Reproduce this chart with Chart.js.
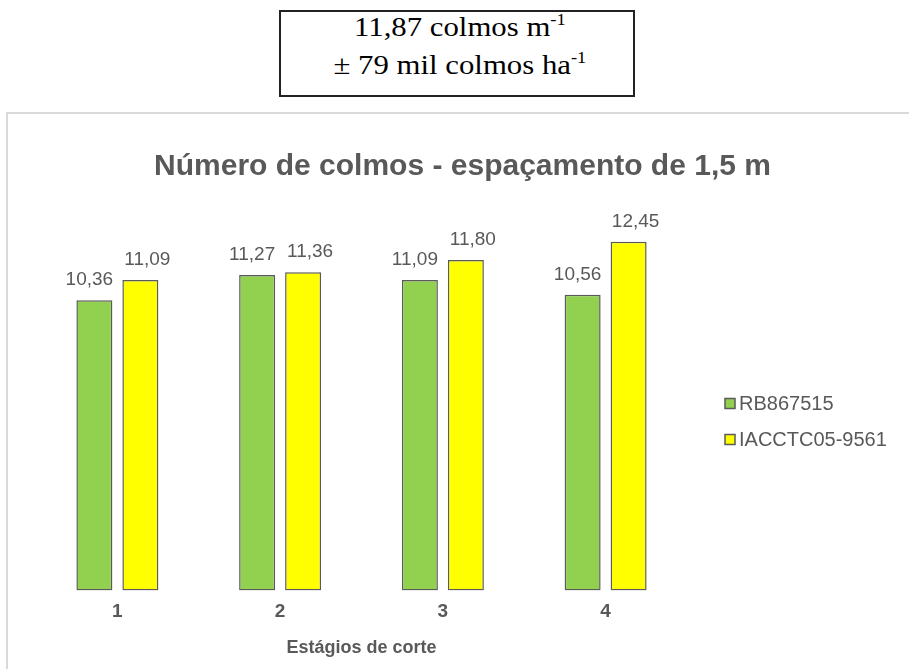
<!DOCTYPE html>
<html lang="pt">
<head>
<meta charset="utf-8">
<title>Número de colmos - espaçamento de 1,5 m</title>
<script src="https://cdn.jsdelivr.net/npm/chart.js@4.4.1/dist/chart.umd.min.js"></script>
<style>
  html, body { margin: 0; padding: 0; background: #ffffff; width: 909px; height: 669px; overflow: hidden; }
  .summary-box { position: absolute; left: 279px; top: 10px; width: 352px; height: 83px; border: 2px solid #222; }
  .summary-line { position: absolute; left: 279px; width: 361px; height: 38px; line-height: 38px; text-align: center;
                  font-family: "Liberation Serif", "Times New Roman", serif; font-size: 27px; color: #000; }
  .summary-line span { display: inline-block; transform: scaleX(1.14); transform-origin: center; white-space: nowrap; }
  .summary-line sup { font-size: 0.6em; vertical-align: 0.7em; line-height: 0; }
  .frame { position: absolute; left: 6px; top: 112px; width: 1000px; height: 700px;
           border-left: 2px solid #d9d9d9; border-top: 2px solid #d9d9d9; }
  #chart { position: absolute; left: 8px; top: 114px; }
</style>
</head>
<body>
<div class="summary-box"></div>
<div class="summary-line" style="top:8px"><span>11,87 colmos m<sup>-1</sup></span></div>
<div class="summary-line" style="top:46px"><span>± 79 mil colmos ha<sup>-1</sup></span></div>
<div class="frame"></div>
<canvas id="chart" width="901" height="555"></canvas>
<script>
// Cutting stages (x categories)
const stages = ['1', '2', '3', '4'];
// Stalks per metre for each variety
const rb867515 = [10.36, 11.27, 11.09, 10.56];
const iacctc059561 = [11.09, 11.36, 11.80, 12.45];
const seriesNames = ['RB867515', 'IACCTC05-9561'];
const seriesColors = ['#92d050', '#ffff00'];
const chartTitle = 'Número de colmos - espaçamento de 1,5 m';
const xAxisTitle = 'Estágios de corte';

const textGray = '#595959';
const barEdge = '#5a5a5a';
const sans = '"Liberation Sans", Arial, sans-serif';

function formatValue(v) {
  return v.toFixed(2).replace('.', ',');
}

// Title centred across the whole chart frame, not just the plot area
const frameTitle = {
  id: 'frameTitle',
  afterDraw(chart) {
    const ctx = chart.ctx;
    ctx.save();
    ctx.font = 'bold 30px ' + sans;
    ctx.fillStyle = textGray;
    ctx.textAlign = 'center';
    ctx.textBaseline = 'middle';
    ctx.fillText(chartTitle, chart.width / 2 + 4, 53);
    ctx.restore();
  }
};

// Value labels above each bar, pushed slightly outward within a group
const valueLabels = {
  id: 'valueLabels',
  afterDatasetsDraw(chart) {
    const ctx = chart.ctx;
    const nudge = [-5, 7];
    ctx.save();
    ctx.font = '19px ' + sans;
    ctx.fillStyle = textGray;
    ctx.textAlign = 'center';
    ctx.textBaseline = 'alphabetic';
    chart.data.datasets.forEach((ds, di) => {
      const meta = chart.getDatasetMeta(di);
      meta.data.forEach((bar, i) => {
        ctx.fillText(formatValue(ds.data[i]), bar.x + nudge[di], bar.y - 15);
      });
    });
    ctx.restore();
  }
};

// Vertical legend on the right side of the plot
const sideLegend = {
  id: 'sideLegend',
  afterDraw(chart) {
    const ctx = chart.ctx;
    const x0 = chart.chartArea.right + 38;
    const y0 = 289.5;
    const rowGap = 36;
    ctx.save();
    ctx.font = '20px ' + sans;
    ctx.textBaseline = 'middle';
    ctx.textAlign = 'left';
    chart.data.datasets.forEach((ds, di) => {
      const cy = y0 + di * rowGap;
      ctx.fillStyle = ds.backgroundColor;
      ctx.fillRect(x0, cy - 5, 10, 10);
      ctx.strokeStyle = barEdge;
      ctx.lineWidth = 1.5;
      ctx.strokeRect(x0, cy - 5, 10, 10);
      ctx.fillStyle = textGray;
      ctx.fillText(ds.label, x0 + 14, cy + 1);
    });
    ctx.restore();
  }
};

const datasets = [rb867515, iacctc059561].map((values, i) => ({
  label: seriesNames[i],
  data: values,
  backgroundColor: seriesColors[i],
  borderColor: barEdge,
  borderWidth: 1.5,
  borderSkipped: false,
  categoryPercentage: 0.565,
  barPercentage: 0.783
}));

new Chart(document.getElementById('chart'), {
  type: 'bar',
  data: { labels: stages, datasets },
  options: {
    responsive: false,
    animation: false,
    devicePixelRatio: 1,
    layout: { padding: { left: 28, right: 222, top: 84.4, bottom: 10 } },
    plugins: {
      legend: { display: false },
      tooltip: { enabled: false },
      title: { display: false }
    },
    scales: {
      x: {
        grid: { display: false, drawTicks: false },
        border: { display: false },
        ticks: {
          color: textGray,
          padding: 10,
          font: { family: sans, size: 19, weight: 'bold' }
        },
        title: {
          display: true,
          text: xAxisTitle,
          color: textGray,
          padding: { top: 4, bottom: 0 },
          font: { family: sans, size: 18, weight: 'bold' }
        }
      },
      y: { display: false, min: 0, max: 14 }
    }
  },
  plugins: [valueLabels, sideLegend, frameTitle]
});
</script>
</body>
</html>
